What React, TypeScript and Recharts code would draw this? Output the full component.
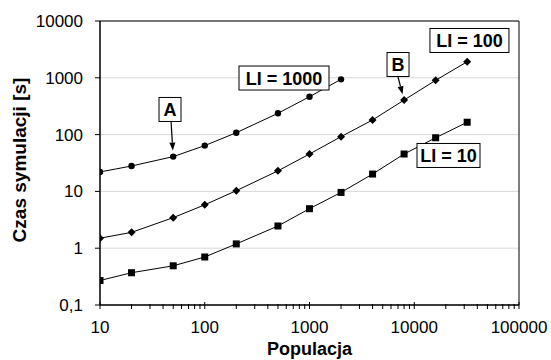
import {
    CartesianGrid,
    Label,
    Line,
    LineChart,
    ReferenceArea,
    ReferenceDot,
    ReferenceLine,
    XAxis,
    YAxis,
} from "recharts";

// population sizes (x) and simulation times in seconds (y)
const popShort = [10, 20, 50, 100, 200, 500, 1000, 2000];
const popLong = [10, 20, 50, 100, 200, 500, 1000, 2000, 4000, 8000, 16000, 32000];
const timesLi1000 = [22, 28, 41, 64, 108, 237, 465, 940];
const timesLi100 = [1.5, 1.9, 3.45, 5.8, 10.3, 23, 45.5, 92, 181, 406, 903, 1920];
const timesLi10 = [0.27, 0.37, 0.49, 0.7, 1.19, 2.46, 4.96, 9.6, 20.2, 45.5, 88, 165];

const yTicks = [0.1, 1, 10, 100, 1000, 10000];
const xDecades = [10, 100, 1000, 10000];
const xTicks = [...xDecades.flatMap((d) => [1, 2, 3, 4, 5, 6, 7, 8, 9].map((m) => d * m)), 100000];

// boxed labels: text and anchor (data coords)
const boxLabels = [
    { text: "LI = 1000", x: 571, y: 991, w: 90 },
    { text: "LI = 100", x: 33650, y: 4540, w: 79 },
    { text: "LI = 10", x: 21230, y: 42.9, w: 63 },
    { text: "A", x: 46.6, y: 277, w: 22 },
    { text: "B", x: 7000, y: 1713, w: 22 },
];
// arrows: from box edge to the pointed data point
const arrows = [
    { x1: 47.7, y1: 167, x2: 50, y2: 41 },
    { x1: 7000, y1: 1032, x2: 8000, y2: 406 },
];

const toPoints = (xs: number[], ys: number[]) => xs.map((x, i) => ({ x, y: ys[i] }));
const li1000 = toPoints(popShort, timesLi1000);
const li100 = toPoints(popLong, timesLi100);
const li10 = toPoints(popLong, timesLi10);

const FONT = '"Liberation Sans", Arial, sans-serif';

const isDecade = (v: number) => Math.abs(Math.log10(v) - Math.round(Math.log10(v))) < 1e-9;

const XTick = (props: any) => {
    const { x, y, payload } = props;
    const axisY = y - 16;
    const major = isDecade(payload.value);
    return (
        <g>
            <line x1={x} x2={x} y1={axisY - (major ? 3 : 1)} y2={axisY + 4} stroke="#000" />
            {major && (
                <text x={x} y={y} dy="0.71em" textAnchor="middle" fill="#000" fontSize={17} fontFamily={FONT}>
                    {payload.value}
                </text>
            )}
        </g>
    );
};

const circleDot = (p: any) => <circle key={`c-${p.index}`} cx={p.cx} cy={p.cy} r={3.2} fill="#000" />;
const diamondDot = (p: any) => (
    <polygon
        key={`d-${p.index}`}
        points={`${p.cx},${p.cy - 4} ${p.cx + 4},${p.cy} ${p.cx},${p.cy + 4} ${p.cx - 4},${p.cy}`}
        fill="#000"
    />
);
const squareDot = (p: any) => <rect key={`s-${p.index}`} x={p.cx - 3.5} y={p.cy - 3.5} width={7} height={7} fill="#000" />;

const boxShape = (text: string, w: number) => (p: any) => (
    <g>
        <rect x={p.cx - w / 2} y={p.cy - 12} width={w} height={24} fill="#fff" stroke="#000" />
        <text x={p.cx} y={p.cy} dy="0.36em" textAnchor="middle" fontSize={18} fontWeight="bold" fontFamily={FONT} fill="#000">
            {text}
        </text>
    </g>
);

const arrowShape = (p: any) => {
    const { x1, y1, x2, y2 } = p;
    const len = Math.hypot(x2 - x1, y2 - y1);
    const ux = (x2 - x1) / len;
    const uy = (y2 - y1) / len;
    const tx = x2 - ux * 6;
    const ty = y2 - uy * 6;
    const bx = tx - ux * 8;
    const by = ty - uy * 8;
    return (
        <g>
            <line x1={x1} y1={y1} x2={bx} y2={by} stroke="#000" strokeWidth={1.2} />
            <polygon points={`${tx},${ty} ${bx - uy * 3},${by + ux * 3} ${bx + uy * 3},${by - ux * 3}`} fill="#000" />
        </g>
    );
};

const App = () => {
    return (
        <div style={{ position: "absolute", left: 0, top: 0 }}>
            <LineChart width={551} height={360} margin={{ top: 21, right: 32, left: 0, bottom: 0 }}>
                <CartesianGrid vertical={false} stroke="#d9d9d9" />
                <XAxis
                    dataKey="x"
                    type="number"
                    scale="log"
                    domain={[10, 100000]}
                    allowDataOverflow
                    ticks={xTicks}
                    interval={0}
                    height={55}
                    tickSize={4}
                    tickMargin={12}
                    tickLine={false}
                    tick={XTick}
                    axisLine={{ stroke: "#000" }}
                >
                    <Label
                        content={(p: any) => (
                            <text
                                x={p.viewBox.x + p.viewBox.width / 2}
                                y={p.viewBox.y + 50}
                                textAnchor="middle"
                                fontSize={18}
                                fontWeight="bold"
                                fontFamily={FONT}
                                fill="#000"
                            >
                                Populacja
                            </text>
                        )}
                    />
                </XAxis>
                <YAxis
                    type="number"
                    scale="log"
                    domain={[0.1, 10000]}
                    allowDataOverflow
                    ticks={yTicks}
                    interval={0}
                    width={100}
                    tickSize={5}
                    tickMargin={12}
                    tickFormatter={(v: number) => String(v).replace(".", ",")}
                    tick={{ fill: "#000", fontSize: 17, fontFamily: FONT }}
                    tickLine={{ stroke: "#000" }}
                    axisLine={{ stroke: "#000" }}
                >
                    <Label
                        content={(p: any) => {
                            const cx = p.viewBox.x + 26;
                            const cy = p.viewBox.y + p.viewBox.height / 2 - 3;
                            return (
                                <text
                                    x={cx}
                                    y={cy}
                                    transform={`rotate(-90 ${cx} ${cy})`}
                                    textAnchor="middle"
                                    fontSize={19}
                                    fontWeight="bold"
                                    fontFamily={FONT}
                                    fill="#000"
                                >
                                    Czas symulacji [s]
                                </text>
                            );
                        }}
                    />
                </YAxis>
                <ReferenceArea x1={10} x2={100000} y1={0.1} y2={10000} fill="none" stroke="#000" ifOverflow="visible" />
                <Line data={li1000} dataKey="y" stroke="#000" strokeWidth={1} dot={circleDot} activeDot={false} isAnimationActive={false} />
                <Line data={li100} dataKey="y" stroke="#000" strokeWidth={1} dot={diamondDot} activeDot={false} isAnimationActive={false} />
                <Line data={li10} dataKey="y" stroke="#000" strokeWidth={1} dot={squareDot} activeDot={false} isAnimationActive={false} />
                {arrows.map((a, i) => (
                    <ReferenceLine
                        key={`arrow-${i}`}
                        segment={[
                            { x: a.x1, y: a.y1 },
                            { x: a.x2, y: a.y2 },
                        ]}
                        shape={arrowShape}
                        ifOverflow="visible"
                    />
                ))}
                {boxLabels.map((b) => (
                    <ReferenceDot key={b.text} x={b.x} y={b.y} r={0} shape={boxShape(b.text, b.w)} ifOverflow="visible" />
                ))}
            </LineChart>
        </div>
    );
};

export default App;
